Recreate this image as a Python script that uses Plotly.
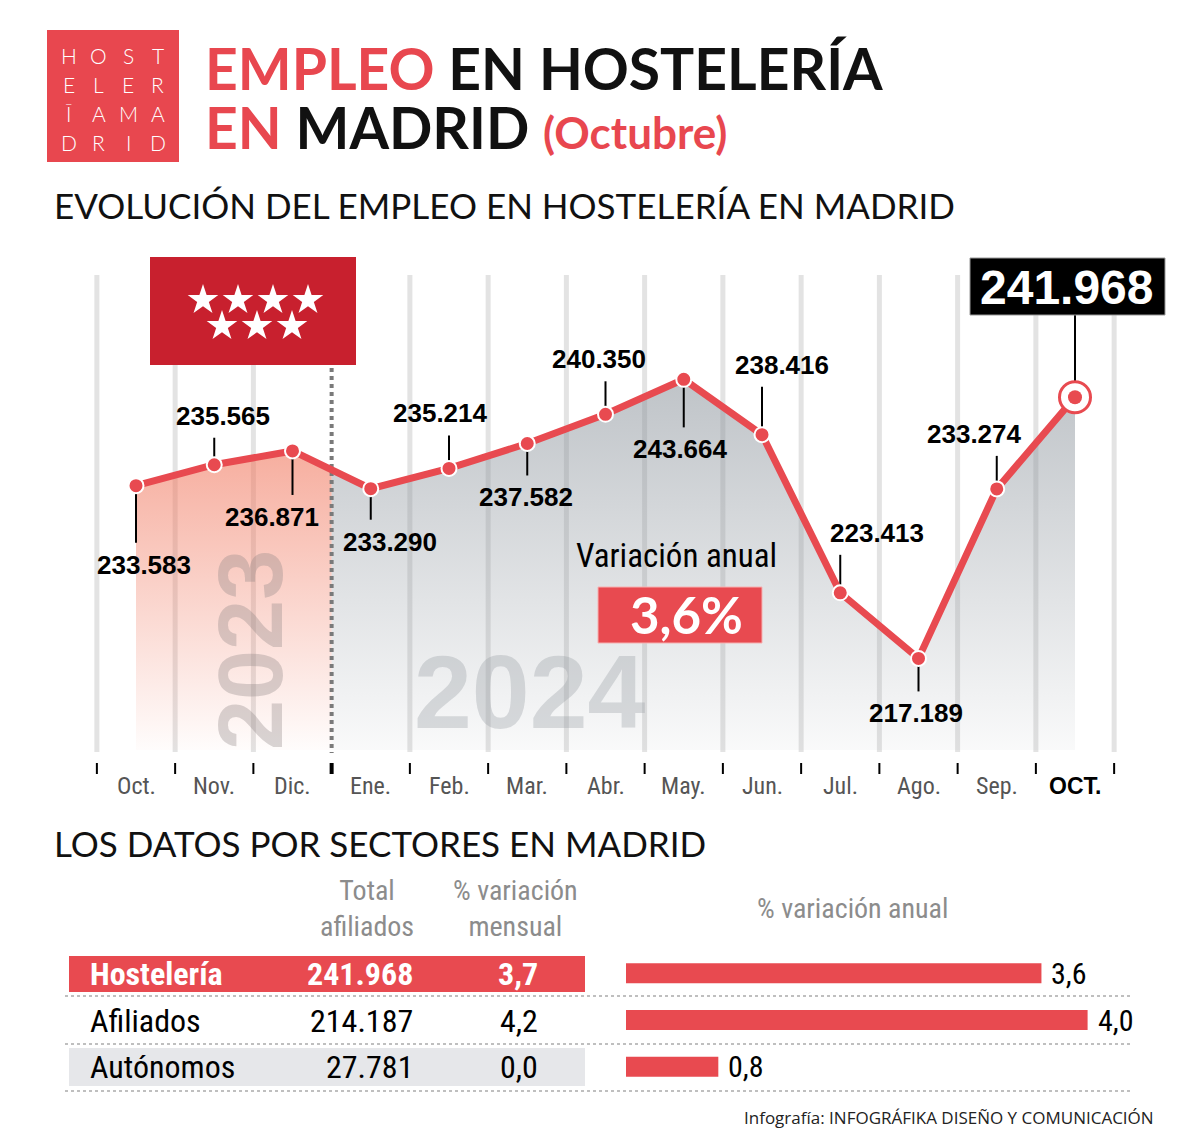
import numpy as np
import plotly.graph_objects as go

# ------------------------------------------------------------------ data
months = ["Oct.", "Nov.", "Dic.", "Ene.", "Feb.", "Mar.", "Abr.", "May.",
          "Jun.", "Jul.", "Ago.", "Sep.", "OCT."]
empleo = [233583, 235565, 236871, 233290, 235214, 237582, 240350, 243664,
          238416, 223413, 217189, 233274, 241968]
n_2023 = 3                      # Oct.-Dic. belong to 2023
variacion_anual_total = 3.6

sectores = ["Hostelería", "Afiliados", "Autónomos"]
total_afiliados = [241968, 214187, 27781]
var_mensual = [3.7, 4.2, 0.0]
var_anual = [3.6, 4.0, 0.8]

# ------------------------------------------------------------------ geometry / style
W, H = 1180, 1141
X0_PX, XSTEP = 136, 78.25            # pixel of first month, pixels per month
BASE_V, BASE_PX, YSCALE = 208500, 750, 0.01054   # baseline value/pixel, px per person
x_lo = -X0_PX / XSTEP
x_hi = (W - X0_PX) / XSTEP
y_hi = BASE_V + BASE_PX / YSCALE
y_lo = BASE_V - (H - BASE_PX) / YSCALE

RED = "#e84a50"
COND = "Liberation Sans Narrow, Roboto Condensed, Arial Narrow, Roboto, sans-serif"
ARIAL = "Liberation Sans, Arial, sans-serif"
GEO = "Lato, Open Sans, sans-serif"


def vy(p):          # value at pixel row p
    return y_hi - p / YSCALE


def py(v):          # pixel row of value v
    return (y_hi - v) * YSCALE


def vx(p):          # x value at pixel column p
    return (p - X0_PX) / XSTEP


def xp(p):
    return p / W


def yp(p):
    return 1 - p / H


def fmt_int(v):
    return f"{v:,}".replace(",", ".")


def fmt_dec(v):
    return f"{v:.1f}".replace(".", ",")


def note(x, y, text, font, xanchor="center", yanchor="middle", xref="paper", yref="paper", **kw):
    return dict(x=x, y=y, xref=xref, yref=yref, text=text, showarrow=False,
                xanchor=xanchor, yanchor=yanchor, font=font, **kw)


fig = go.Figure()
xs = np.arange(len(empleo))
x_split = n_2023 - 0.5
v_split = float(np.interp(x_split, xs, empleo))

# ---- filled areas (2023 salmon, 2024 gray)
x23 = list(xs[:n_2023]) + [x_split]
y23 = empleo[:n_2023] + [v_split]
x24 = [x_split] + list(xs[n_2023:])
y24 = [v_split] + empleo[n_2023:]
vmax = max(empleo)
for xx, yy, c0, c1 in [(x23, y23, "rgba(241,122,97,0.02)", "rgba(241,122,97,0.75)"),
                       (x24, y24, "rgba(139,147,155,0.05)", "rgba(139,147,155,0.55)")]:
    fig.add_trace(go.Scatter(x=xx, y=[BASE_V] * len(xx), mode="lines",
                             line=dict(width=0), hoverinfo="skip", showlegend=False))
    fig.add_trace(go.Scatter(x=xx, y=yy, mode="lines", line=dict(width=0),
                             fill="tonexty",
                             fillgradient=dict(type="vertical",
                                               colorscale=[[0, c0], [1, c1]],
                                               start=BASE_V, stop=vmax),
                             hoverinfo="skip", showlegend=False))

# ---- dotted separator 2023 / 2024
fig.add_trace(go.Scatter(x=[x_split, x_split], y=[vy(368), vy(753)], mode="lines",
                         line=dict(color="#7a7a7a", width=4, dash="dot"),
                         hoverinfo="skip", showlegend=False))

# ---- Madrid flag stars (decoration)
star_px = [(203, 300), (238, 300), (273, 300), (308, 300),
           (222, 326), (257, 326), (292, 326)]
fig.add_trace(go.Scatter(x=[vx(a) for a, _ in star_px], y=[vy(b) for _, b in star_px],
                         mode="markers", marker=dict(symbol="star", size=23, color="white",
                                                     line=dict(width=0)),
                         hoverinfo="skip", showlegend=False))

# ---- value labels with leader lines
lab_dx = [8, 9, -21, 19, -9, -1, -7, -3, 20, 37, -3, -22]
lab_dy = [79, -49, 66, 53, -55, 54, -55, 70, -70, -60, 55, -55]
lx, ly = [], []
for i in range(len(empleo) - 1):
    p = py(empleo[i])
    end = p + lab_dy[i] - np.sign(lab_dy[i]) * 22
    lx += [xs[i], xs[i], None]
    ly += [empleo[i], vy(end), None]
lx += [xs[-1], xs[-1]]
ly += [empleo[-1], vy(315)]
fig.add_trace(go.Scatter(x=lx, y=ly, mode="lines", line=dict(color="black", width=2),
                         hoverinfo="skip", showlegend=False))

# ---- main line
fig.add_trace(go.Scatter(x=xs, y=empleo, mode="lines",
                         line=dict(color=RED, width=7), showlegend=False))
fig.add_trace(go.Scatter(x=xs[:-1], y=empleo[:-1], mode="markers",
                         marker=dict(size=15, color=RED, line=dict(color="white", width=2)),
                         showlegend=False))
fig.add_trace(go.Scatter(x=[xs[-1]], y=[empleo[-1]], mode="markers",
                         marker=dict(size=31, color="white", line=dict(color=RED, width=3)),
                         showlegend=False))
fig.add_trace(go.Scatter(x=[xs[-1]], y=[empleo[-1]], mode="markers",
                         marker=dict(size=14, color=RED), showlegend=False))

# ---- bars (annual variation by sector)
fig.add_trace(go.Bar(x=var_anual, y=list(range(len(sectores))), orientation="h",
                     width=0.43, marker=dict(color=RED, line=dict(width=0)),
                     xaxis="x2", yaxis="y2", showlegend=False))

shapes = []
ann = []

# gridlines + tick marks
for b in np.arange(-0.5, len(empleo)):
    if abs(b - x_split) > 1e-9:
        shapes.append(dict(type="line", xref="x", yref="paper", x0=b, x1=b,
                           y0=yp(275), y1=yp(752), layer="below",
                           line=dict(color="#e3e3e3", width=5)))
    shapes.append(dict(type="line", xref="x", yref="paper", x0=b, x1=b,
                       y0=yp(763), y1=yp(774),
                       line=dict(color="black", width=4 if abs(b - x_split) < 1e-9 else 2)))

# Madrid flag (below the star markers)
shapes.append(dict(type="rect", xref="paper", yref="paper", x0=xp(150), x1=xp(356),
                   y0=yp(257), y1=yp(365), fillcolor="#c8202e", line=dict(width=0),
                   layer="below"))

for i, m in enumerate(months):
    last = i == len(months) - 1
    ann.append(note(i, yp(786), m,
                    dict(family=ARIAL if last else COND, size=23 if last else 24,
                         color="black" if last else "#555",
                         weight="bold" if last else "normal"), xref="x"))

# value labels
for i in range(len(empleo) - 1):
    ann.append(note(xs[i], empleo[i], fmt_int(empleo[i]),
                    dict(family=ARIAL, size=26, color="black", weight="bold"),
                    xref="x", yref="y", xshift=lab_dx[i], yshift=-lab_dy[i]))

# watermarks
ann.append(note(xp(251), yp(650), "2023",
                dict(family=ARIAL, size=90, color="rgba(140,130,130,0.33)", weight="bold"),
                textangle=-90))
ann.append(note(xp(530), yp(692), "2024",
                dict(family=ARIAL, size=104, color="rgba(150,155,160,0.33)", weight="bold")))

# last value box
shapes.append(dict(type="rect", xref="paper", yref="paper", x0=xp(970), x1=xp(1165),
                   y0=yp(258), y1=yp(315), fillcolor="black", line=dict(color="#999", width=1),
                   layer="above"))
ann.append(note(xp(1067), yp(287), fmt_int(empleo[-1]),
                dict(family=ARIAL, size=48, color="white", weight="bold")))

# annual variation callout
ann.append(note(xp(676), yp(555), "Variación anual",
                dict(family=COND, size=33, color="black")))
shapes.append(dict(type="rect", xref="paper", yref="paper", x0=xp(598), x1=xp(762),
                   y0=yp(587), y1=yp(643), fillcolor=RED, line=dict(color="#f7b0b0", width=1),
                   layer="above"))
ann.append(note(xp(686), yp(615), fmt_dec(variacion_anual_total) + "%",
                dict(family=GEO, size=51, color="white", weight="bold")))

# header: logo
shapes.append(dict(type="rect", xref="paper", yref="paper", x0=xp(47), x1=xp(179),
                   y0=yp(30), y1=yp(162), fillcolor="#e8474f", line=dict(width=0)))
logo_rows = ["HOST", "ELER", "ĪAMA", "DRID"]
for r, row in enumerate(logo_rows):
    for c, ch in enumerate(row):
        ann.append(note(xp(69 + 29.5 * c), yp(55 + 29 * r), ch,
                        dict(family=GEO, size=21, color="white", weight=300)))

ann.append(note(xp(203), yp(68), "<span style='color:#e8474f'>EMPLEO</span> EN HOSTELERÍA",
                dict(family=GEO, size=57, color="#111", weight="bold"), xanchor="left"))
ann.append(note(xp(203), yp(127),
                "<span style='color:#e8474f'>EN</span> MADRID "
                "<span style='color:#e8474f;font-size:44px'>(Octubre)</span>",
                dict(family=GEO, size=57, color="#111", weight="bold"), xanchor="left"))

ann.append(note(xp(52), yp(205), "EVOLUCIÓN DEL EMPLEO EN HOSTELERÍA EN MADRID",
                dict(family=GEO, size=35, color="#111"), xanchor="left"))
ann.append(note(xp(52), yp(843), "LOS DATOS POR SECTORES EN MADRID",
                dict(family=GEO, size=35, color="#111"), xanchor="left"))

# table headers
for cx, t in [(367, "Total<br>afiliados"), (515, "% variación<br>mensual"),
              (852, "% variación anual")]:
    ann.append(note(xp(cx), yp(908), t, dict(family=COND, size=28, color="#8c8c8c")))

# table rows
shapes.append(dict(type="rect", xref="paper", yref="paper", x0=xp(69), x1=xp(585),
                   y0=yp(956), y1=yp(992), fillcolor=RED, line=dict(width=0), layer="below"))
shapes.append(dict(type="rect", xref="paper", yref="paper", x0=xp(69), x1=xp(585),
                   y0=yp(1048), y1=yp(1086), fillcolor="#e6e7ea", line=dict(width=0),
                   layer="below"))
for sy in [996, 1044, 1091]:
    shapes.append(dict(type="line", xref="paper", yref="paper", x0=xp(65), x1=xp(1130),
                       y0=yp(sy), y1=yp(sy), line=dict(color="#aaaaaa", width=1.5, dash="dot")))
row_y = [974, 1021, 1067]
for i, s in enumerate(sectores):
    first = i == 0
    f = dict(family=COND, size=32, color="white" if first else "black",
             weight="bold" if first else "normal")
    ann.append(note(xp(88), yp(row_y[i]), s, f, xanchor="left"))
    ann.append(note(xp(415), yp(row_y[i]), fmt_int(total_afiliados[i]), f, xanchor="right"))
    ann.append(note(xp(540), yp(row_y[i]), fmt_dec(var_mensual[i]), f, xanchor="right"))
    ann.append(note(var_anual[i], i, fmt_dec(var_anual[i]),
                    dict(family=COND, size=30, color="black"),
                    xanchor="left", xref="x2", yref="y2", xshift=8))

# footer
ann.append(note(xp(1156), yp(1117), "Infografía: INFOGRÁFIKA DISEÑO Y COMUNICACIÓN",
                dict(family="Open Sans, sans-serif", size=17, color="#222"), xanchor="right"))

hidden = dict(showgrid=False, zeroline=False, showticklabels=False, ticks="",
              showline=False, fixedrange=True)
fig.update_layout(
    width=W, height=H, margin=dict(l=0, r=0, t=0, b=0),
    paper_bgcolor="white", plot_bgcolor="rgba(0,0,0,0)",
    separators=",.", showlegend=False, hovermode=False,
    xaxis=dict(range=[x_lo, x_hi], domain=[0, 1], **hidden),
    yaxis=dict(range=[y_lo, y_hi], domain=[0, 1], **hidden),
    xaxis2=dict(range=[0, (W - 626) / 115.4], domain=[626 / W, 1], anchor="y2", **hidden),
    yaxis2=dict(range=[2.5, -0.5], domain=[yp(1090), yp(950)], anchor="x2", **hidden),
    shapes=shapes, annotations=ann,
)

fig.write_html("out.html", config={"displayModeBar": False},
               post_script="document.body.style.margin='0';document.body.style.overflow='hidden';")
